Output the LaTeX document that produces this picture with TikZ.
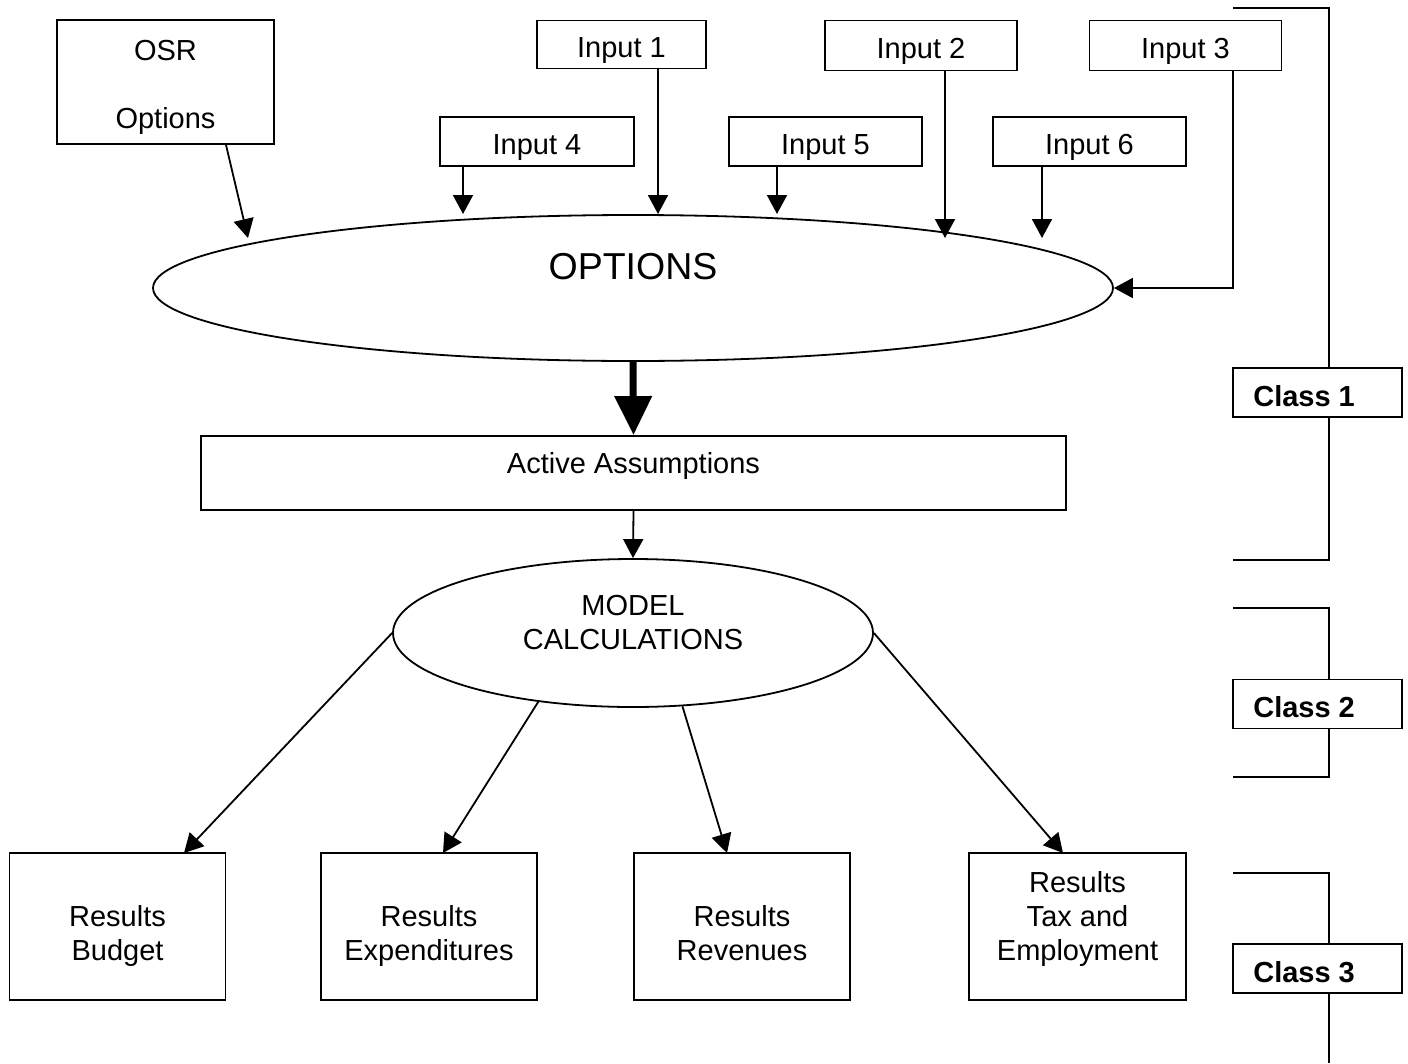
\documentclass[tikz,border=0pt]{standalone}
\usepackage{fontspec}
\setmainfont{Liberation Sans}
\usetikzlibrary{arrows.meta,shapes.geometric}
\begin{document}
\begin{tikzpicture}[x=1pt,y=-1pt,
  every node/.style={font=\fontsize{29}{34}\selectfont},
  box/.style={draw, line width=1.8pt, fill=white, inner sep=0pt, align=center},
  inbox/.style={box, minimum height=48pt, text height=26pt, text depth=0pt},
  resbox/.style={box, minimum width=216pt, minimum height=147pt},
  classbox/.style={box, minimum width=169pt, minimum height=49pt},
  oval/.style={draw, line width=1.8pt, ellipse, inner sep=0pt, fill=white},
  txt/.style={align=center, text depth=0pt, inner sep=0pt},
  arr/.style={line width=1.8pt, -{Triangle[length=19pt,width=20pt]}},
  bigarr/.style={line width=7pt, -{Triangle[length=39pt,width=36pt]}},
  bracket/.style={line width=1.8pt}]
\useasboundingbox (0,0) rectangle (1408,1063);

% class brackets on the right
\draw[bracket] (1233,8) -- (1329,8) -- (1329,560) -- (1233,560);
\draw[bracket] (1233,608) -- (1329,608) -- (1329,777) -- (1233,777);
\draw[bracket] (1233,873) -- (1329,873) -- (1329,1063);
\node[classbox, label={[txt, anchor=west, xshift=21pt, yshift=-3pt]west:\textbf{Class 1}}] (cl1) at (1317.5,392.5) {};
\node[classbox, label={[txt, anchor=west, xshift=21pt, yshift=-3pt]west:\textbf{Class 2}}] (cl2) at (1317.5,704) {};
\node[classbox, label={[txt, anchor=west, xshift=21pt, yshift=-3pt]west:\textbf{Class 3}}] (cl3) at (1317.5,968.5) {};

% option sources
\node[box, minimum width=217pt, minimum height=124pt,
      label={[txt, yshift=-2pt]center:OSR\\ \\Options}] (osr) at (165.5,82) {};
\node[inbox, minimum width=169pt] (in1) at (621.5,44.5) {Input 1};
\node[inbox, minimum width=192pt, minimum height=50pt] (in2) at (921,45.5) {Input 2};
\node[inbox, minimum width=192pt, minimum height=50pt] (in3) at (1185.5,45.5) {Input 3};
\node[inbox, minimum width=194pt, minimum height=49pt] (in4) at (537,141.5) {Input 4};
\node[inbox, minimum width=193pt, minimum height=49pt] (in5) at (825.5,141.5) {Input 5};
\node[inbox, minimum width=193pt, minimum height=49pt] (in6) at (1089.5,141.5) {Input 6};

% central flow
\node[oval, minimum width=960pt, minimum height=146pt,
      label={[txt, yshift=22pt, font=\fontsize{37.5}{44}\selectfont]center:OPTIONS}] (opt) at (633,288) {};
\node[box, minimum width=865pt, minimum height=74pt,
      label={[txt, yshift=10pt]center:Active Assumptions}] (act) at (633.5,473) {};
\node[oval, minimum width=480pt, minimum height=148pt,
      label={[txt, yshift=11pt]center:MODEL\\CALCULATIONS}] (model) at (633,633) {};

% results
\node[resbox, label={[txt, yshift=-6pt]center:Results\\Budget}] (rb) at (117.5,926.5) {};
\node[resbox, label={[txt, yshift=-6pt]center:Results\\Expenditures}] (rx) at (429,926.5) {};
\node[resbox, label={[txt, yshift=-6pt]center:Results\\Revenues}] (rr) at (742,926.5) {};
\node[resbox, minimum width=217pt, label={[txt, yshift=11pt]center:Results\\Tax and\\Employment}] (rt) at (1077.5,926.5) {};

% arrow ends
\coordinate (t0) at (248,238);
\coordinate (t4) at (463,214);
\coordinate (t1) at (658,214);
\coordinate (t5) at (777,214);
\coordinate (t2) at (945,238);
\coordinate (t6) at (1042,238);
\coordinate (c3) at (1233,288);
\coordinate (e1) at (184,853);
\coordinate (e2) at (443,853);
\coordinate (e3) at (727,853);
\coordinate (e4) at (1063,853);

% connectors into OPTIONS
\draw[arr] ([xshift=60.5pt]osr.south) -- (t0);
\draw[arr] (in4.south -| t4) -- (t4);
\draw[arr] (in1.south -| t1) -- (t1);
\draw[arr] (in5.south -| t5) -- (t5);
\draw[arr] (in2.south -| t2) -- (t2);
\draw[arr] (in6.south -| t6) -- (t6);
\draw[arr] (in3.south -| c3) -- (c3) -- (opt.east);

% main flow
\draw[bigarr] (opt.south) -- (act.north);
\draw[arr] (act.south) -- (model.north);

% connectors to results
\draw[arr] (model.west) -- (e1);
\draw[arr] (model.216) -- (e2);
\draw[arr] (model.304) -- (e3);
\draw[arr] (model.east) -- (e4);
\end{tikzpicture}
\end{document}
